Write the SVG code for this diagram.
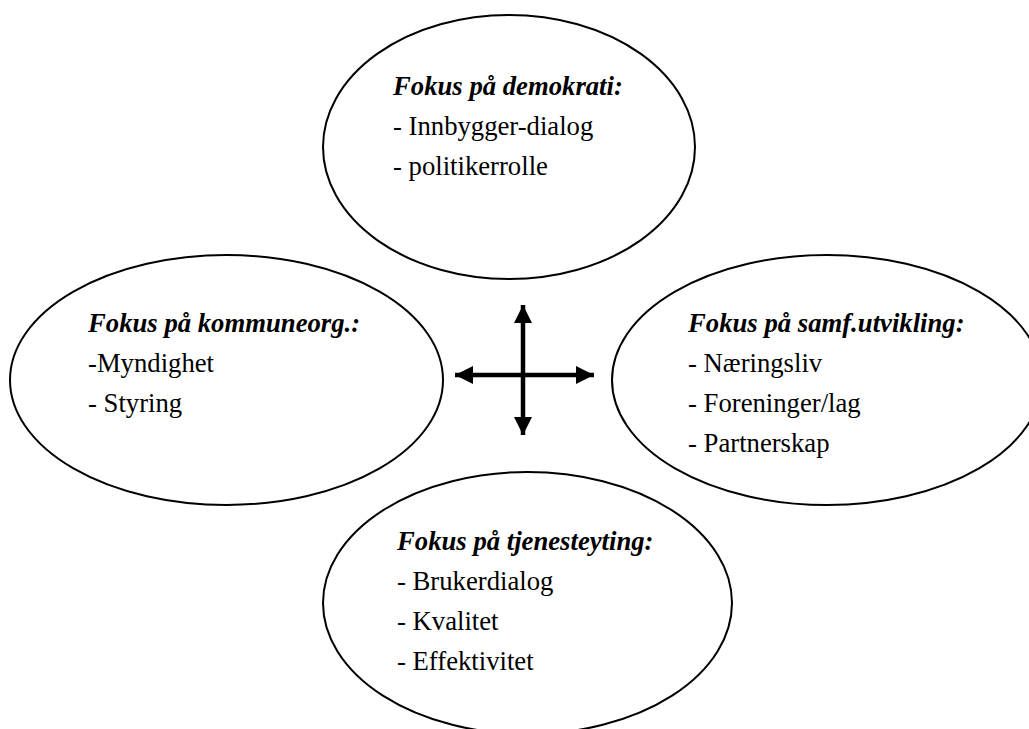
<svg xmlns="http://www.w3.org/2000/svg" width="1029" height="729" viewBox="0 0 1029 729">
  <style>
    .node ellipse { fill: #ffffff; stroke: #000000; stroke-width: 2; }
    text { font-family: 'Liberation Serif', 'Times New Roman', 'DejaVu Serif', serif; font-size: 26.7px; fill: #000000; }
    .h { font-weight: bold; font-style: italic; }
    .conn line { stroke: #000000; stroke-width: 4.5; }
  </style>
  <defs>
    <marker id="ah" markerUnits="userSpaceOnUse" markerWidth="20" markerHeight="18" refX="18" refY="9" orient="auto">
      <path d="M0,0 L18,9 L0,18 Z" fill="#000000"/>
    </marker>
  </defs>
  <rect width="1029" height="729" fill="#ffffff"/>
  <g id="node-demokrati" class="node" font-family="Liberation Serif, serif">
    <ellipse cx="509" cy="147" rx="186" ry="132"/>
    <text class="h" x="393" y="95" font-family="Liberation Serif, serif">Fokus på demokrati:</text>
    <text x="393" y="135" font-family="Liberation Serif, serif">- Innbygger-dialog</text>
    <text x="393" y="175" font-family="Liberation Serif, serif">- politikerrolle</text>
  </g>
  <g id="node-kommuneorg" class="node">
    <ellipse cx="226.5" cy="380" rx="216.5" ry="125"/>
    <text class="h" x="88" y="332" font-family="Liberation Serif, serif">Fokus på kommuneorg.:</text>
    <text x="88" y="372" font-family="Liberation Serif, serif">-Myndighet</text>
    <text x="88" y="412" font-family="Liberation Serif, serif">- Styring</text>
  </g>
  <g id="node-samfutvikling" class="node">
    <ellipse cx="827" cy="380" rx="215" ry="125"/>
    <text class="h" x="688" y="332" font-family="Liberation Serif, serif">Fokus på samf.utvikling:</text>
    <text x="688" y="372" font-family="Liberation Serif, serif">- Næringsliv</text>
    <text x="688" y="412" font-family="Liberation Serif, serif">- Foreninger/lag</text>
    <text x="688" y="452" font-family="Liberation Serif, serif">- Partnerskap</text>
  </g>
  <g id="node-tjenesteyting" class="node">
    <ellipse cx="527.5" cy="603" rx="204.5" ry="131"/>
    <text class="h" x="397" y="550" font-family="Liberation Serif, serif">Fokus på tjenesteyting:</text>
    <text x="397" y="590" font-family="Liberation Serif, serif">- Brukerdialog</text>
    <text x="397" y="630" font-family="Liberation Serif, serif">- Kvalitet</text>
    <text x="397" y="670" font-family="Liberation Serif, serif">- Effektivitet</text>
  </g>
  <g id="connectors" class="conn">
    <line x1="523" y1="375" x2="455" y2="375" marker-end="url(#ah)"/>
    <line x1="523" y1="375" x2="594" y2="375" marker-end="url(#ah)"/>
    <line x1="523" y1="375" x2="523" y2="305" marker-end="url(#ah)"/>
    <line x1="523" y1="375" x2="523" y2="435" marker-end="url(#ah)"/>
  </g>
</svg>
